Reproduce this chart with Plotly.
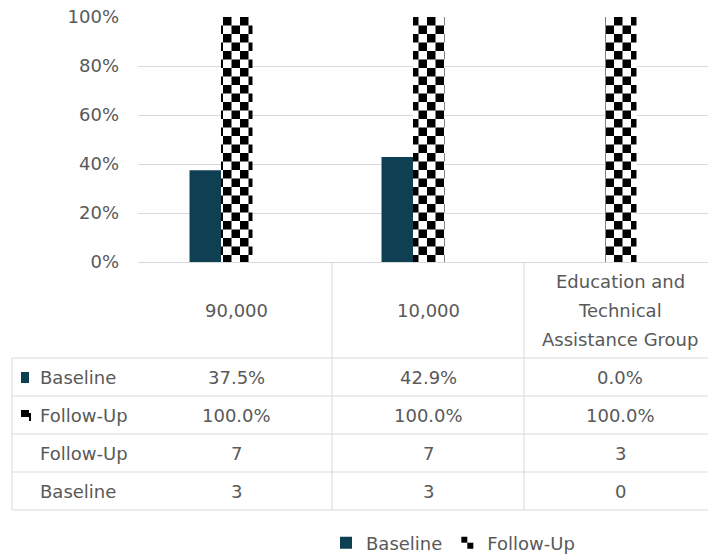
import plotly.graph_objects as go

# ---------------- data ----------------
categories = ["90,000", "10,000", "Education and<br>Technical<br>Assistance Group"]
series_names = ["Baseline", "Follow-Up"]
baseline_pct = [37.5, 42.9, 0.0]
followup_pct = [100.0, 100.0, 100.0]
count_rows = ["Follow-Up", "Baseline"]
followup_n = [7, 7, 3]
baseline_n = [3, 3, 0]

# ---------------- geometry helpers (pixels -> paper) ----------------
W, H = 708, 554
L, R = 138, 708
T, B = 17, 262
def px(x):
    return (x - L) / (R - L)
def py(y):
    return (B - y) / (B - T)

CAT_W = 192.0
BAR_C0 = 221.0          # pixel centre of first bar group
COL_C0 = 236.0          # pixel centre of first table column
r0 = -(BAR_C0 - L) / CAT_W
r1 = r0 + (R - L) / CAT_W

FONT = "DejaVu Sans"
GREY = "#595959"
LINE = "#d9d9d9"
NAVY = "#0E3F52"

fig = go.Figure()
fig.add_trace(go.Bar(
    name=series_names[0], x=categories, y=[v / 100 for v in baseline_pct],
    marker=dict(color=NAVY, line=dict(width=0)),
))
fig.add_trace(go.Bar(
    name=series_names[1], x=categories, y=[v / 100 for v in followup_pct],
    marker=dict(color="white", line=dict(width=0),
                pattern=dict(shape="+", fgcolor="black", bgcolor="white",
                             size=17, solidity=0.5)),
))

shapes = []
annotations = []

def hline(y, x0, x1):
    shapes.append(dict(type="line", xref="paper", yref="paper",
                       x0=px(x0), x1=px(x1), y0=py(y), y1=py(y),
                       line=dict(color=LINE, width=1)))

def vline(x, y0, y1):
    shapes.append(dict(type="line", xref="paper", yref="paper",
                       x0=px(x), x1=px(x), y0=py(y0), y1=py(y1),
                       line=dict(color=LINE, width=1)))

def text(x, y, s, anchor="center"):
    annotations.append(dict(xref="paper", yref="paper", x=px(x), y=py(y),
                            text=s, showarrow=False, xanchor=anchor,
                            yanchor="middle",
                            font=dict(family=FONT, size=18, color=GREY)))

# table grid
row_tops = [358, 396, 434, 472, 510]
for y in row_tops:
    hline(y, 12, 708)
vline(12, 358, 510)
for i in range(1, len(categories)):
    vline(COL_C0 + CAT_W * (i - 0.5), 262, 510)

# header
for i, c in enumerate(categories):
    lines = c.split("<br>")
    n = len(lines)
    for k, ln in enumerate(lines):
        text(COL_C0 + CAT_W * i, 310 + (k - (n - 1) / 2) * 29, ln)

# rows
row_centres = [(row_tops[k] + row_tops[k + 1]) / 2 for k in range(4)]
rows = [
    (series_names[0], [f"{v:.1f}%" for v in baseline_pct]),
    (series_names[1], [f"{v:.1f}%" for v in followup_pct]),
    (count_rows[0], [str(v) for v in followup_n]),
    (count_rows[1], [str(v) for v in baseline_n]),
]
for k, (lab, vals) in enumerate(rows):
    yc = row_centres[k]
    text(38, yc, lab, anchor="left")
    for i, v in enumerate(vals):
        text(COL_C0 + CAT_W * i, yc, v)

# legend keys inside the table
shapes.append(dict(type="rect", xref="paper", yref="paper",
                   x0=px(21), x1=px(29), y0=py(372), y1=py(383),
                   fillcolor=NAVY, line=dict(width=0)))
shapes.append(dict(type="rect", xref="paper", yref="paper",
                   x0=px(21), x1=px(29), y0=py(410), y1=py(417),
                   fillcolor="black", line=dict(width=0)))
shapes.append(dict(type="rect", xref="paper", yref="paper",
                   x0=px(29), x1=px(31), y0=py(413), y1=py(421),
                   fillcolor="black", line=dict(width=0)))

fig.update_layout(
    width=W, height=H, autosize=False,
    margin=dict(l=L, r=W - R, t=T, b=H - B, pad=0, autoexpand=False),
    paper_bgcolor="white", plot_bgcolor="white",
    barmode="group", bargap=0.672, bargroupgap=0,
    font=dict(family=FONT, size=18, color=GREY),
    xaxis=dict(range=[r0, r1], showticklabels=False, showgrid=False,
               zeroline=False, showline=False, ticks=""),
    yaxis=dict(range=[0, 1], dtick=0.2, tickformat=".0%",
               showgrid=True, gridcolor=LINE, gridwidth=1,
               zeroline=True, zerolinecolor=LINE, zerolinewidth=1,
               showline=False, ticks="", ticklabelstandoff=18,
               tickfont=dict(family=FONT, size=18, color=GREY)),
    showlegend=True,
    legend=dict(orientation="h", xref="paper", x=px(453), xanchor="center",
                yref="container", y=1 - 543 / H, yanchor="middle",
                bgcolor="rgba(0,0,0,0)",
                font=dict(family=FONT, size=18, color=GREY),
                traceorder="normal"),
    shapes=shapes, annotations=annotations,
)

post = """
document.body.style.margin = '0';
document.body.style.padding = '0';
document.body.style.overflow = 'hidden';
var gd = document.getElementById('{plot_id}');
function checker(){
  var ns = 'http://www.w3.org/2000/svg';
  var pats = gd.querySelectorAll('pattern');
  pats.forEach(function(p){
    var s = 17, h = 8.5;
    p.setAttribute('width', s);
    p.setAttribute('height', s);
    while (p.firstChild) { p.removeChild(p.firstChild); }
    function r(x, y, w, hh, c){
      var e = document.createElementNS(ns, 'rect');
      e.setAttribute('x', x); e.setAttribute('y', y);
      e.setAttribute('width', w); e.setAttribute('height', hh);
      e.setAttribute('fill', c);
      p.appendChild(e);
    }
    r(0, 0, s, s, '#ffffff');
    r(0, 0, h, h, '#000000');
    r(h, h, h, h, '#000000');
  });
}
checker();
gd.on('plotly_afterplot', checker);
"""

fig.write_html("out.html", post_script=post, config={"displayModeBar": False})
